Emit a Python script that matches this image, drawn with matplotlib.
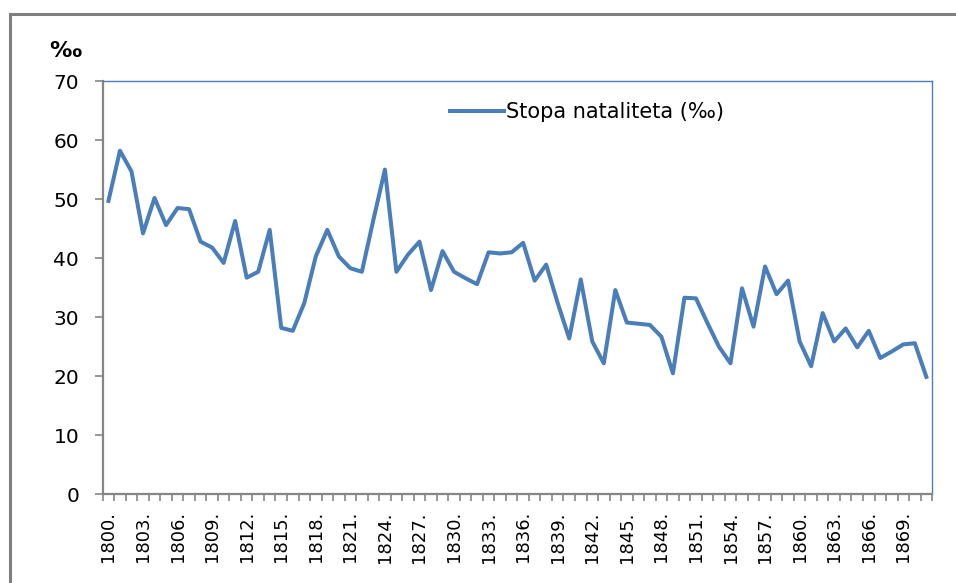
import matplotlib
matplotlib.use("Agg")
import matplotlib.pyplot as plt
from matplotlib.lines import Line2D
from matplotlib.ticker import FixedLocator
import numpy as np

# godine 1800-1871
godine = list(range(1800, 1872))
# stopa nataliteta (promil), ocitano s grafa
natalitet = [49.7, 58.2, 54.7, 44.2, 50.2, 45.6, 48.5, 48.3, 42.8, 41.8,
             39.2, 46.3, 36.7, 37.7, 44.8, 28.2, 27.7, 32.4, 40.3, 44.8,
             40.3, 38.3, 37.7, 46.5, 55.0, 37.7, 40.6, 42.8, 34.6, 41.2,
             37.7, 36.6, 35.6, 41.0, 40.8, 41.0, 42.6, 36.2, 38.9, 32.4,
             26.4, 36.4, 25.9, 22.2, 34.6, 29.1, 28.9, 28.7, 26.7, 20.5,
             33.3, 33.2, 29.0, 25.0, 22.2, 34.9, 28.4, 38.6, 33.9, 36.2,
             25.9, 21.7, 30.7, 25.9, 28.1, 24.9, 27.7, 23.1, 24.2, 25.4,
             25.6, 19.9]
oznake = [f"{g}." for g in godine]

plava = '#4a7ebb'
siva = '#868686'

fig = plt.figure(figsize=(9.56, 5.83), dpi=100)
ax = fig.add_axes([0.1074, 0.152, 0.8676, 0.709])

x = np.arange(len(godine))
ax.plot(x, natalitet, color=plava, linewidth=2.9, label='Stopa nataliteta (‰)')

ax.set_xlim(-0.5, len(godine) - 0.5)
ax.set_ylim(0, 70)
ax.set_yticks(range(0, 71, 10))

# oznake svake 3 godine, crtice izmedu kategorija
ax.set_xticks(x[::3])
ax.set_xticklabels(oznake[::3], rotation=90, fontsize=13)
ax.xaxis.set_minor_locator(FixedLocator(np.arange(-0.5, len(godine), 1)))
ax.tick_params(axis='x', which='major', length=0, pad=12)
ax.tick_params(axis='x', which='minor', length=5, width=1.2, color=siva)
ax.tick_params(axis='y', length=6, width=1.2, color=siva, labelsize=14.5, pad=11)

ax.spines['left'].set_color(siva)
ax.spines['left'].set_linewidth(1.6)
ax.spines['bottom'].set_color(siva)
ax.spines['bottom'].set_linewidth(1.6)
ax.spines['top'].set_color(plava)
ax.spines['top'].set_linewidth(1)
ax.spines['right'].set_color(plava)
ax.spines['right'].set_linewidth(1)

ax.legend(loc='center left', bbox_to_anchor=(0.419, 0.925), frameon=False,
          fontsize=15, handlelength=2.6, handletextpad=0.1,
          borderaxespad=0, borderpad=0)

fig.text(0.052, 0.902, '‰', fontsize=16, fontweight='bold')

# okvir slike
fig.add_artist(Line2D([10 / 956, 10 / 956], [0, 1 - 14 / 583],
                      transform=fig.transFigure, color='#7f7f7f', linewidth=2.2))
fig.add_artist(Line2D([10 / 956, 1], [1 - 14 / 583, 1 - 14 / 583],
                      transform=fig.transFigure, color='#7f7f7f', linewidth=2.2))

plt.savefig('out.png', dpi=100)
